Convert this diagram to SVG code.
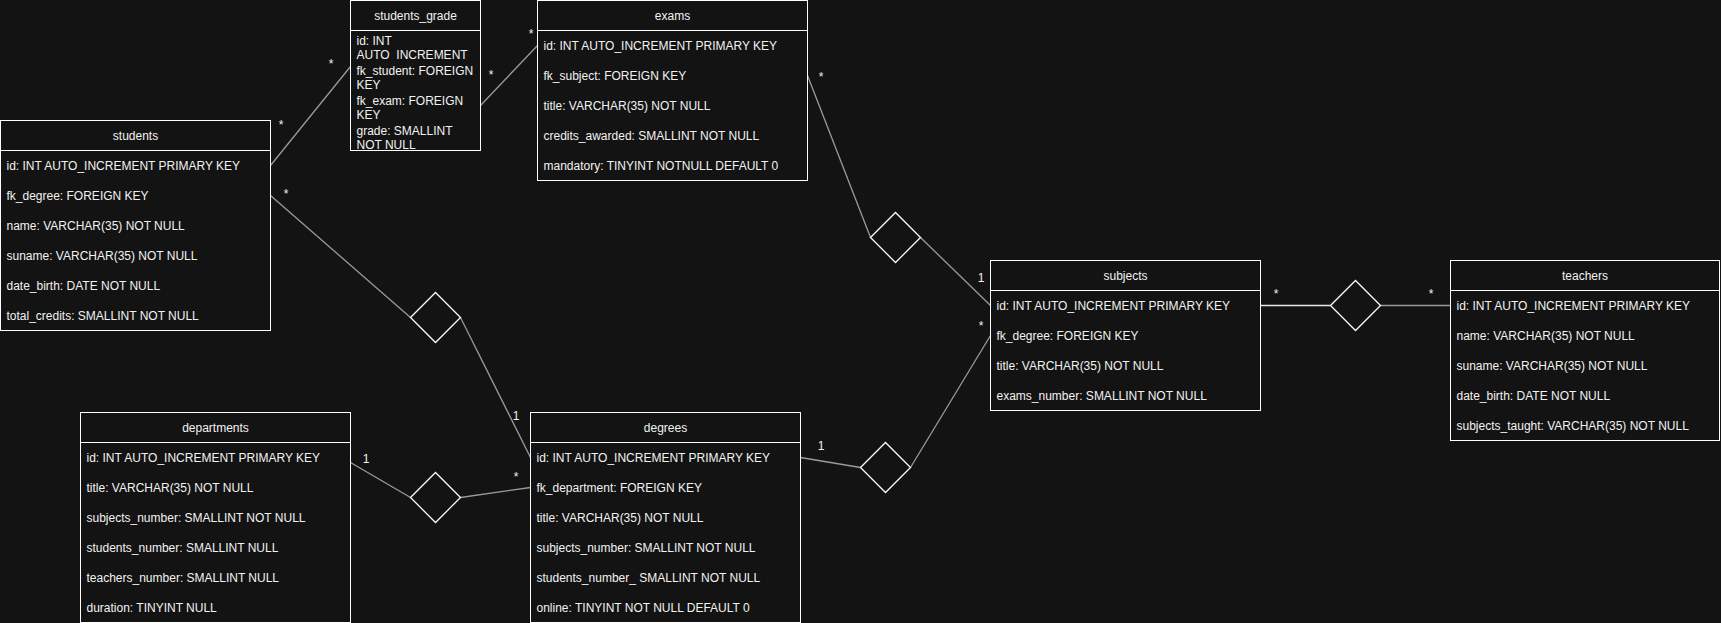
<svg xmlns="http://www.w3.org/2000/svg" width="1721" height="623" viewBox="0 0 1721 623">
<style>
text{font-family:"Liberation Sans",Arial,sans-serif;font-size:12px;fill:#f2f2f2}
.t{text-anchor:middle}
.box{fill:#131313;stroke:#ffffff;stroke-width:1}
.hd{stroke:#ffffff;stroke-width:1}
.row{fill:#131313}
.c{stroke:#9a9a9a;stroke-width:1.3;fill:none}
.cw{stroke:#e8e8e8;stroke-width:1.3;fill:none}
.d{fill:#131313;stroke:#ffffff;stroke-width:1.3}
.lb{font-size:12px}
</style>
<rect x="0" y="0" width="1721" height="623" fill="#131313"/>

<g id="connectors">
<line class="c" x1="270.5" y1="165.5" x2="350.5" y2="66.5"/>
<line class="c" x1="480.5" y1="105.5" x2="537.5" y2="45.5"/>
<line class="c" x1="807.5" y1="75.5" x2="870.5" y2="237.5"/>
<line class="c" x1="920.5" y1="237.5" x2="990.5" y2="305.5"/>
<line class="c" x1="270.5" y1="195.5" x2="410.5" y2="317.5"/>
<line class="c" x1="460.5" y1="317.5" x2="530.5" y2="457.5"/>
<line class="c" x1="350.5" y1="462.5" x2="410.5" y2="497.5"/>
<line class="c" x1="460.5" y1="497.5" x2="530.5" y2="487.5"/>
<line class="c" x1="800.5" y1="457.5" x2="860.5" y2="467.5"/>
<line class="c" x1="910.5" y1="467.5" x2="990.5" y2="335.5"/>
<line class="cw" x1="1260.5" y1="305.5" x2="1330.5" y2="305.5"/>
<line class="c" x1="1380.5" y1="305.5" x2="1450.5" y2="305.5"/>
<polygon class="d" points="870.5,237.5 895.5,212.5 920.5,237.5 895.5,262.5"/>
<polygon class="d" points="410.5,317.5 435.5,292.5 460.5,317.5 435.5,342.5"/>
<polygon class="d" points="410.5,497.5 435.5,472.5 460.5,497.5 435.5,522.5"/>
<polygon class="d" points="860.5,467.5 885.5,442.5 910.5,467.5 885.5,492.5"/>
<polygon class="d" points="1330.5,305.5 1355.5,280.5 1380.5,305.5 1355.5,330.5"/>
<text class="lb t" x="281" y="129">*</text>
<text class="lb t" x="331" y="68">*</text>
<text class="lb t" x="491" y="79">*</text>
<text class="lb t" x="531" y="38">*</text>
<text class="lb t" x="821" y="81">*</text>
<text class="lb t" x="981" y="282">1</text>
<text class="lb t" x="286" y="198">*</text>
<text class="lb t" x="516" y="420">1</text>
<text class="lb t" x="366" y="463">1</text>
<text class="lb t" x="516" y="481">*</text>
<text class="lb t" x="821" y="450">1</text>
<text class="lb t" x="981" y="330">*</text>
<text class="lb t" x="1276" y="298">*</text>
<text class="lb t" x="1431" y="298">*</text>
</g>

<g id="students">
<rect class="box" x="0.5" y="120.5" width="270" height="210"/>
<line class="hd" x1="0.5" y1="150.5" x2="270.5" y2="150.5"/>
<text class="t" x="135.5" y="140">students</text>
<text x="6.5" y="170">id: INT AUTO_INCREMENT PRIMARY KEY</text>
<text x="6.5" y="200">fk_degree: FOREIGN KEY</text>
<text x="6.5" y="230">name: VARCHAR(35) NOT NULL</text>
<text x="6.5" y="260">suname: VARCHAR(35) NOT NULL</text>
<text x="6.5" y="290">date_birth: DATE NOT NULL</text>
<text x="6.5" y="320">total_credits: SMALLINT NOT NULL</text>
</g>

<g id="students_grade">
<rect class="box" x="350.5" y="0.5" width="130" height="150"/>
<line class="hd" x1="350.5" y1="30.5" x2="480.5" y2="30.5"/>
<text class="t" x="415.5" y="20">students_grade</text>
<text x="356.5" y="45">id: INT</text>
<text x="356.5" y="59">AUTO_INCREMENT</text>
<rect class="row" x="351" y="60.5" width="129" height="30"/>
<text x="356.5" y="75.3">fk_student: FOREIGN</text>
<text x="356.5" y="89">KEY</text>
<rect class="row" x="351" y="90.5" width="129" height="30"/>
<text x="356.5" y="105">fk_exam: FOREIGN</text>
<text x="356.5" y="119">KEY</text>
<rect class="row" x="351" y="120.5" width="129" height="30"/>
<text x="356.5" y="135">grade: SMALLINT</text>
<text x="356.5" y="149">NOT NULL</text>
<line class="hd" x1="350.5" y1="150.5" x2="480.5" y2="150.5"/>
</g>

<g id="exams">
<rect class="box" x="537.5" y="0.5" width="270" height="180"/>
<line class="hd" x1="537.5" y1="30.5" x2="807.5" y2="30.5"/>
<text class="t" x="672.5" y="20">exams</text>
<text x="543.5" y="50">id: INT AUTO_INCREMENT PRIMARY KEY</text>
<text x="543.5" y="80">fk_subject: FOREIGN KEY</text>
<text x="543.5" y="110">title: VARCHAR(35) NOT NULL</text>
<text x="543.5" y="140">credits_awarded: SMALLINT NOT NULL</text>
<text x="543.5" y="170">mandatory: TINYINT NOTNULL DEFAULT 0</text>
</g>

<g id="subjects">
<rect class="box" x="990.5" y="260.5" width="270" height="150"/>
<line class="hd" x1="990.5" y1="290.5" x2="1260.5" y2="290.5"/>
<text class="t" x="1125.5" y="280">subjects</text>
<text x="996.5" y="310">id: INT AUTO_INCREMENT PRIMARY KEY</text>
<text x="996.5" y="340">fk_degree: FOREIGN KEY</text>
<text x="996.5" y="370">title: VARCHAR(35) NOT NULL</text>
<text x="996.5" y="400">exams_number: SMALLINT NOT NULL</text>
</g>

<g id="teachers">
<rect class="box" x="1450.5" y="260.5" width="269" height="180"/>
<line class="hd" x1="1450.5" y1="290.5" x2="1719.5" y2="290.5"/>
<text class="t" x="1585" y="280">teachers</text>
<text x="1456.5" y="310">id: INT AUTO_INCREMENT PRIMARY KEY</text>
<text x="1456.5" y="340">name: VARCHAR(35) NOT NULL</text>
<text x="1456.5" y="370">suname: VARCHAR(35) NOT NULL</text>
<text x="1456.5" y="400">date_birth: DATE NOT NULL</text>
<text x="1456.5" y="430">subjects_taught: VARCHAR(35) NOT NULL</text>
</g>

<g id="departments">
<rect class="box" x="80.5" y="412.5" width="270" height="210"/>
<line class="hd" x1="80.5" y1="442.5" x2="350.5" y2="442.5"/>
<text class="t" x="215.5" y="432">departments</text>
<text x="86.5" y="462">id: INT AUTO_INCREMENT PRIMARY KEY</text>
<text x="86.5" y="492">title: VARCHAR(35) NOT NULL</text>
<text x="86.5" y="522">subjects_number: SMALLINT NOT NULL</text>
<text x="86.5" y="552">students_number: SMALLINT NULL</text>
<text x="86.5" y="582">teachers_number: SMALLINT NULL</text>
<text x="86.5" y="612">duration: TINYINT NULL</text>
</g>

<g id="degrees">
<rect class="box" x="530.5" y="412.5" width="270" height="210"/>
<line class="hd" x1="530.5" y1="442.5" x2="800.5" y2="442.5"/>
<text class="t" x="665.5" y="432">degrees</text>
<text x="536.5" y="462">id: INT AUTO_INCREMENT PRIMARY KEY</text>
<text x="536.5" y="492">fk_department: FOREIGN KEY</text>
<text x="536.5" y="522">title: VARCHAR(35) NOT NULL</text>
<text x="536.5" y="552">subjects_number: SMALLINT NOT NULL</text>
<text x="536.5" y="582">students_number_ SMALLINT NOT NULL</text>
<text x="536.5" y="612">online: TINYINT NOT NULL DEFAULT 0</text>
</g>
</svg>
